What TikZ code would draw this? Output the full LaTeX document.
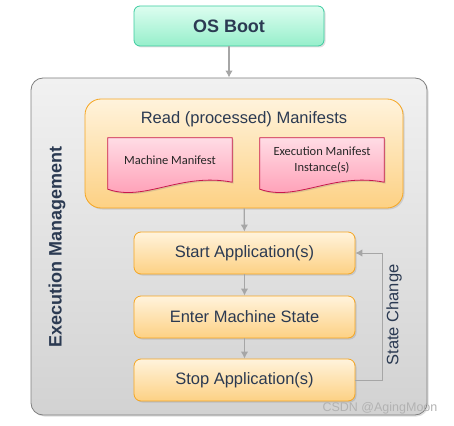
\documentclass[tikz,border=0pt]{standalone}
\usepackage{fontspec}
\setmainfont{Liberation Sans}
\newfontfamily\docfont{Carlito}
\usetikzlibrary{shapes,shadows,arrows.meta}

\definecolor{textnavy}{HTML}{2B3A52}
\definecolor{arrowgray}{HTML}{A6A6A6}
\definecolor{bootline}{HTML}{3CCCA0}
\definecolor{boottop}{HTML}{DDFDF0}
\definecolor{bootbottom}{HTML}{96EFCB}
\definecolor{execline}{HTML}{7F7F7F}
\definecolor{exectop}{HTML}{F1F1F1}
\definecolor{execbottom}{HTML}{D2D2D2}
\definecolor{boxline}{HTML}{F5A623}
\definecolor{boxtop}{HTML}{FFF3DC}
\definecolor{boxbottom}{HTML}{FDD184}
\definecolor{docline}{HTML}{C8174D}
\definecolor{doctop}{HTML}{FFDCE5}
\definecolor{docbottom}{HTML}{FF98B1}

\tikzset{
	softshadow/.style={drop shadow={opacity=0.25, shadow xshift=1.5pt, shadow yshift=-1.5pt}},
	bootbox/.style={draw=bootline, line width=0.8pt, rounded corners=6pt, top color=boottop, bottom color=bootbottom, softshadow, minimum width=190pt, minimum height=40pt, font=\bfseries\fontsize{18}{21}\selectfont, text=textnavy},
	execframe/.style={draw=execline, line width=0.8pt, rounded corners=12pt, top color=exectop, bottom color=execbottom, softshadow, minimum width=396pt, minimum height=337pt},
	manifestframe/.style={draw=boxline, line width=0.8pt, rounded corners=16pt, top color=boxtop, bottom color=boxbottom, softshadow, minimum width=318pt, minimum height=109pt},
	stepbox/.style={draw=boxline, line width=0.8pt, rounded corners=7pt, top color=boxtop, bottom color=boxbottom, softshadow, minimum width=221pt, minimum height=42pt, font=\fontsize{16.5}{19}\selectfont, text=textnavy},
	docbox/.style={minimum width=124pt, minimum height=55pt, inner sep=0pt},
	doctext/.style={font=\docfont\fontsize{12.5}{16}\selectfont, align=center, text=black!85},
	docshape/.style={draw=docline, line width=0.8pt, top color=doctop, bottom color=docbottom, softshadow},
	label/.style={font=\fontsize{16.5}{19}\selectfont, text=textnavy},
	flow/.style={-{Latex[length=7pt,width=7.5pt]}, color=arrowgray, line width=1.3pt}
}

% wavy bottom document outline round an empty node
\newcommand{\manifestdoc}[1]{%
	\path[docshape] (#1.north west) -- (#1.north east) -- ([shift={(0,-11)}]#1.south east)
		.. controls ([shift={(-52,-21)}]#1.south east) and ([shift={(37,9)}]#1.south west) .. ([shift={(0,-4)}]#1.south west) -- cycle;}

\begin{document}
\begin{tikzpicture}[x=1pt, y=-1pt]
	\useasboundingbox (0,0) rectangle (454,425);
	\node [bootbox] (boot) at (229,26) {OS Boot};
	\node [execframe] (exec) at (229,246.5) {};
	\node [label, font=\bfseries\fontsize{18}{21}\selectfont, rotate=90] (execlabel) at (57,247) {Execution Management};
	\node [manifestframe] (manifests) at (244,153.5) {};
	\node [label] (manifeststitle) at (244,119.5) {Read (processed) Manifests};
	\node [docbox] (machine) at (170,165.5) {};
	\node [docbox] (instance) at (322,165.5) {};
	\manifestdoc{machine}
	\manifestdoc{instance}
	\node [doctext] (machinetext) at (170,160) {Machine Manifest};
	\node [doctext] (instancetext) at (322,160) {Execution Manifest\\Instance(s)};
	\node [stepbox] (start) at (244.5,253) {Start Application(s)};
	\node [stepbox] (enter) at (244.5,317) {Enter Machine State};
	\node [stepbox] (stop) at (244.5,380) {Stop Application(s)};
	\node [label, rotate=90] (changelabel) at (394,315) {State Change};
	\node [font=\fontsize{12.5}{15}\selectfont, text=black!30] (watermark) at (380,408) {CSDN @AgingMoon};
	\draw [flow] (boot) -- (exec);
	\draw [flow] (manifests) -- (start);
	\draw [flow] (start) -- (enter);
	\draw [flow] (enter) -- (stop);
	\draw [flow, line width=0.9pt] (stop.east) -- ++(27,0) |- (start.east);
\end{tikzpicture}
\end{document}
